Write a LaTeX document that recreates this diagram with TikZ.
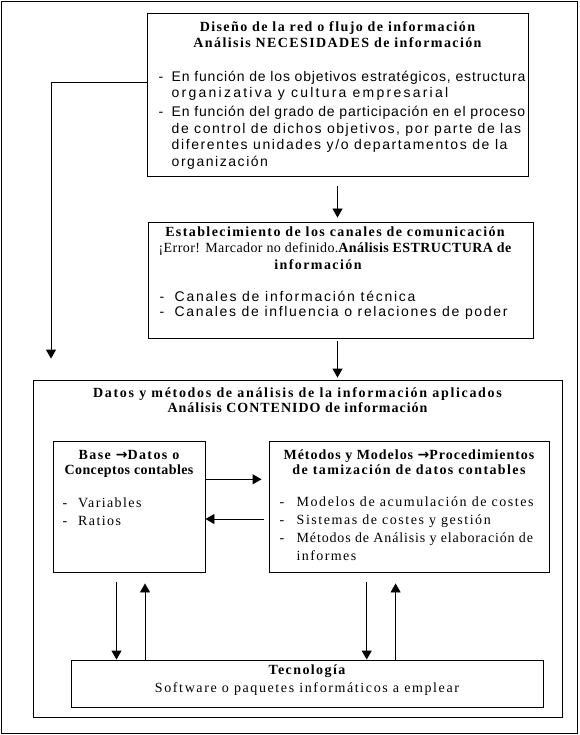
\documentclass[tikz,border=0pt]{standalone}
\usepackage{fontspec}
\setmainfont{Liberation Serif}[LetterSpace=10]
\usetikzlibrary{arrows.meta,positioning}
\newcommand{\dashitem}[1][13pt]{\makebox[#1][l]{-}}
\newcommand{\sansat}[1]{\fontspec{Liberation Sans}[LetterSpace=#1]}
\newcommand{\serifat}[1]{\fontspec{Liberation Serif}[LetterSpace=#1]}
\newcommand{\symarrow}{{\fontspec{DejaVu Sans}\bfseries →}}

\begin{document}
\begin{tikzpicture}[x=1pt,y=-1pt,>={Triangle[length=9pt,width=10pt]},
  box/.style={draw=black,line width=.9pt,inner sep=0pt},
  flow/.style={->,line width=.9pt},
  head/.style={anchor=north,align=center,inner sep=0pt,font=\fontsize{14}{#1}\selectfont\bfseries},
  items/.style={anchor=north west,align=left,inner sep=0pt,font=\fontsize{14}{#1}\selectfont}]
\useasboundingbox (0,0) rectangle (579,735);
\draw[line width=.9pt] (1,1) rectangle (577,733);
\node[box,minimum width=381pt,minimum height=163pt] (need) at (337.5,94.5) {};
\node[head=16.5] (needhead) at (337.5,19.5) {\strut Diseño de la red o flujo de información\\Análisis NECESIDADES de información};
\node[items=16.7] (needlist) at (158.5,69.3) {\sansat{6}\strut\dashitem En función de los objetivos estratégicos, estructura\\
  \sansat{16}\hspace*{13pt}organizativa y cultura empresarial\\[2pt]
  \sansat{6}\dashitem En función del grado de participación en el proceso\\
  \sansat{11}\hspace*{13pt}de control de dichos objetivos, por parte de las\\
  \sansat{11.5}\hspace*{13pt}diferentes unidades y/o departamentos de la\\
  \sansat{11}\hspace*{13pt}organización};
\node[box,minimum width=385pt,minimum height=116pt] (canal) at (340.5,280) {};
\node[head=16.5] (canalhead) at (335,224.5) {\strut Establecimiento de los canales de comunicación\\{\serifat{3}\mdseries ¡Error! Marcador no definido.}\serifat{3}Análisis ESTRUCTURA de\\información\hspace*{34pt}};
\node[items=15] (canallist) at (159.5,290.5) {\sansat{12.5}\strut\dashitem[15pt]Canales de información técnica\\\sansat{12}\dashitem[15pt]Canales de influencia o relaciones de poder};
\node[box,minimum width=529pt,minimum height=337pt] (datos) at (297.5,548.5) {};
\node[head=15.5] (datoshead) at (297.5,386) {\serifat{12}\strut Datos y métodos de análisis de la información aplicados\\\serifat{7}Análisis CONTENIDO de información};
\node[box,minimum width=152pt,minimum height=131pt] (base) at (129,506.5) {};
\node[head=15.5] (basehead) at (129,448) {\strut Base \symarrow Datos o\\\serifat{3}Conceptos contables};
\node[items=18] (baselist) at (62.5,494.4) {\strut\dashitem[15.5pt]Variables\\\dashitem[15.5pt]Ratios};
\node[box,minimum width=280pt,minimum height=131pt] (metodos) at (409,506.5) {};
\node[head=15.5] (metodoshead) at (409,448) {\serifat{7}\strut Métodos y Modelos \symarrow Procedimientos\\de tamización de datos contables};
\node[items=18] (metodoslist) at (279.5,493.4) {\serifat{11}\strut\dashitem[17pt]Modelos de acumulación de costes\\\serifat{11}\dashitem[17pt]Sistemas de costes y gestión\\\dashitem[17pt]{\serifat{6}Métodos de Análisis y elaboración de}\\\hspace*{17pt}informes};
\node[box,minimum width=472pt,minimum height=47pt] (tec) at (307,683.5) {};
\node[head=18] (techead) at (307,661.4) {\strut Tecnología\\\mdseries\serifat{11.5}Software o paquetes informáticos a emplear};
\coordinate (turn) at (51,82.7);
\coordinate (upper) at (0,479.3);
\coordinate (lower) at (0,519);
\coordinate (basedown) at (116.5,0);
\coordinate (baseup) at (145,0);
\coordinate (metdown) at (366.7,0);
\coordinate (metup) at (395.6,0);
\draw[flow,shorten <=10pt,shorten >=4pt] (need.south) -- (need.south |- canal.north);
\draw[flow,shorten <=3pt,shorten >=2pt] (need.south |- canal.south) -- (need.south |- datos.north);
\draw[flow,shorten >=21pt] (need.west |- turn) -- (turn) -- (turn |- datos.north);
\draw[flow,shorten >=7pt] (base.east |- upper) -- (metodos.west |- upper);
\draw[flow,shorten <=5pt] (metodos.west |- lower) -- (base.east |- lower);
\draw[flow,shorten <=10pt] (base.south -| basedown) -- (basedown |- tec.north);
\draw[flow,shorten >=11pt] (baseup |- tec.north) -- (base.south -| baseup);
\draw[flow,shorten <=10pt] (metodos.south -| metdown) -- (metdown |- tec.north);
\draw[flow,shorten >=11pt] (metup |- tec.north) -- (metodos.south -| metup);
\end{tikzpicture}
\end{document}
